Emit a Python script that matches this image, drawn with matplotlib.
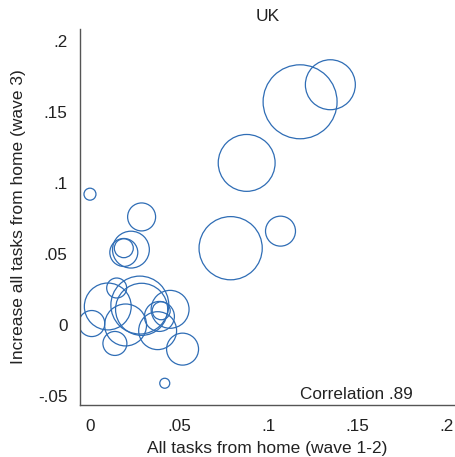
import matplotlib.pyplot as plt

plt.rcParams['font.family'] = ['Liberation Sans', 'DejaVu Sans']

# Share of all tasks done from home in waves 1-2 (x) and increase in wave 3 (y)
wfh_wave12 = [0.118, 0.135, 0.088, 0.079, 0.107, 0.000, 0.029, 0.023, 0.019, 0.019,
              0.010, 0.015, 0.001, 0.014, 0.020, 0.028, 0.029, 0.045, 0.039, 0.040,
              0.038, 0.052, 0.042]
increase_wave3 = [0.157, 0.169, 0.114, 0.054, 0.066, 0.092, 0.076, 0.053, 0.051, 0.054,
                  0.013, 0.026, 0.001, -0.013, 0.000, 0.014, 0.011, 0.011, 0.006, 0.010,
                  -0.004, -0.017, -0.041]
# bubble weights (employment size of each group)
weights = [13.7, 6.25, 8.1, 10.0, 2.25, 0.36, 1.96, 3.4, 1.96, 0.9,
           5.5, 1.0, 1.7, 1.44, 4.4, 8.4, 6.8, 3.6, 2.25, 0.81,
           3.6, 2.56, 0.25]
correlation = '.89'

x_ticks = [0, 0.05, 0.1, 0.15, 0.2]
x_ticklabels = ['0', '.05', '.1', '.15', '.2']
y_ticks = [-0.05, 0, 0.05, 0.1, 0.15, 0.2]
y_ticklabels = ['-.05', '0', '.05', '.1', '.15', '.2']

fig = plt.figure(figsize=(4.55, 4.57), dpi=100)
ax = fig.add_axes([80 / 455, 1 - 405 / 457, 375 / 455, 376 / 457])

ax.scatter(wfh_wave12, increase_wave3, s=[w * 207 for w in weights],
           facecolors='none', edgecolors='#2f6db5', linewidths=0.9)

ax.set_xlim(-0.0056, 0.205)
ax.set_ylim(-0.0563, 0.2082)

ax.set_xticks(x_ticks)
ax.set_xticklabels(x_ticklabels)
ax.set_yticks(y_ticks)
ax.set_yticklabels(y_ticklabels)
ax.tick_params(axis='both', length=0, labelsize=12.3, colors='#222222')
ax.tick_params(axis='x', pad=10)
ax.tick_params(axis='y', pad=9)

for side in ['top', 'right']:
    ax.spines[side].set_visible(False)
for side in ['left', 'bottom']:
    ax.spines[side].set_color('#555555')
    ax.spines[side].set_linewidth(1.0)

ax.set_xlabel('All tasks from home (wave 1-2)', fontsize=12.5, color='#222222')
ax.xaxis.label.set_va('center')
ax.xaxis.set_label_coords(0.5, -43 / 376)
ax.set_ylabel('Increase all tasks from home (wave 3)', fontsize=12.5, color='#222222')
ax.yaxis.label.set_va('center')
ax.yaxis.set_label_coords(-61 / 375, 0.5)

ax.set_title('UK', fontsize=12.5, color='#222222', pad=5.5)
ax.text(0.1494, -0.049, 'Correlation ' + correlation, ha='center', va='center',
        fontsize=12.3, color='#222222')

fig.savefig('out.png', dpi=100)
